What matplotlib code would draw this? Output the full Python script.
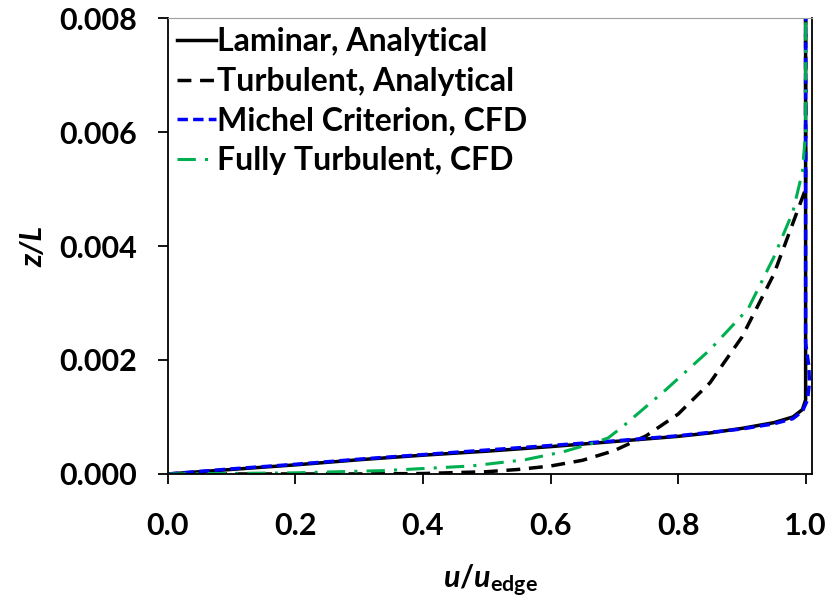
import matplotlib
matplotlib.use('Agg')
import matplotlib.pyplot as plt

plt.rcParams['font.family'] = ['Lato', 'DejaVu Sans']
plt.rcParams['font.weight'] = 'bold'
plt.rcParams['mathtext.fontset'] = 'custom'
plt.rcParams['mathtext.it'] = 'Lato:bold:italic'
plt.rcParams['mathtext.rm'] = 'Lato:bold'
plt.rcParams['mathtext.bf'] = 'Lato:bold'

# Data
u_lam = [0, 0.1, 0.2, 0.3, 0.4, 0.5, 0.6, 0.7, 0.8, 0.85, 0.9, 0.95, 0.98, 0.995, 1.0, 1.0]
z_lam = [0, 0.00008, 0.00016, 0.00025, 0.00033, 0.0004, 0.00048, 0.00057, 0.00066,
         0.00072, 0.0008, 0.0009, 0.001, 0.00113, 0.0013, 0.008]

u_turb = [0, 0.3, 0.4, 0.5, 0.55, 0.6, 0.65, 0.7, 0.75, 0.8, 0.85, 0.9, 0.95, 0.98, 1.0, 1.0]
z_turb = [0, 0.000001, 0.000008, 0.00004, 0.00008, 0.00014, 0.00024, 0.00041, 0.00067,
          0.00105, 0.0016, 0.0024, 0.0035, 0.0044, 0.005, 0.008]

u_michel = [0, 0.1, 0.2, 0.3, 0.4, 0.5, 0.6, 0.7, 0.8, 0.9, 0.95, 0.98, 0.995,
            1.003, 1.006, 1.005, 1.0, 1.0, 1.0]
z_michel = [0, 0.00009, 0.00017, 0.00026, 0.00034, 0.00042, 0.0005, 0.00058, 0.00067,
            0.00079, 0.00088, 0.00097, 0.0011, 0.0013, 0.0016, 0.0019, 0.0023, 0.005, 0.008]

u_fturb = [0, 0.1, 0.2, 0.34, 0.475, 0.56, 0.62, 0.666, 0.69, 0.713, 0.78, 0.85,
           0.91, 0.95, 0.98, 0.995, 1.0, 1.0]
z_fturb = [0, 0.00001, 0.00002, 0.00006, 0.00014, 0.00025, 0.00039, 0.00054, 0.00063,
           0.00083, 0.00147, 0.00218, 0.0029, 0.0038, 0.0046, 0.0053, 0.006, 0.008]

xticks = [0.0, 0.2, 0.4, 0.6, 0.8, 1.0]
yticks = [0.000, 0.002, 0.004, 0.006, 0.008]

fig = plt.figure(figsize=(8.34, 6.09), dpi=100)
ax = fig.add_axes([0.2014, 0.2217, 0.7722, 0.7487])

ax.plot(u_lam, z_lam, color='black', lw=2.5, label='Laminar, Analytical')
ax.plot(u_turb, z_turb, color='black', lw=2.5, ls=(0, (4, 2.5)), label='Turbulent, Analytical')
ax.plot(u_michel, z_michel, color='#0000ff', lw=2.5, ls=(0, (3, 1.5)), label='Michel Criterion, CFD')
ax.plot(u_fturb, z_fturb, color='#00b050', lw=2.2, ls=(0, (6, 3, 1, 3)), label='Fully Turbulent, CFD')

ax.set_xlim(0, 1.01)
ax.set_ylim(0, 0.008)
ax.set_xticks(xticks)
ax.set_yticks(yticks)
ax.set_xticklabels([f'{v:.1f}' for v in xticks])
ax.set_yticklabels([f'{v:.3f}' for v in yticks])
ax.tick_params(direction='out', length=7.5, width=1.3, labelsize=22)
ax.tick_params(axis='x', pad=20)
ax.tick_params(axis='y', pad=15)

ax.set_xlabel(r'$u/u_{\mathrm{edge}}$', fontsize=22, labelpad=16)
ax.set_ylabel('z/L', fontsize=22, fontstyle='italic', fontweight='bold', labelpad=8)

for s in ['left', 'bottom', 'right']:
    ax.spines[s].set_linewidth(1.3)
    ax.spines[s].set_color('black')
ax.spines['top'].set_color('#a0a0a0')

leg = ax.legend(loc='upper left', frameon=False, fontsize=23, handlelength=1.2,
                handletextpad=0.05, borderaxespad=0.0, borderpad=0.29, labelspacing=0.33,
                bbox_to_anchor=(0.0, 1.0))

fig.savefig('out.png', dpi=100, facecolor='white')
